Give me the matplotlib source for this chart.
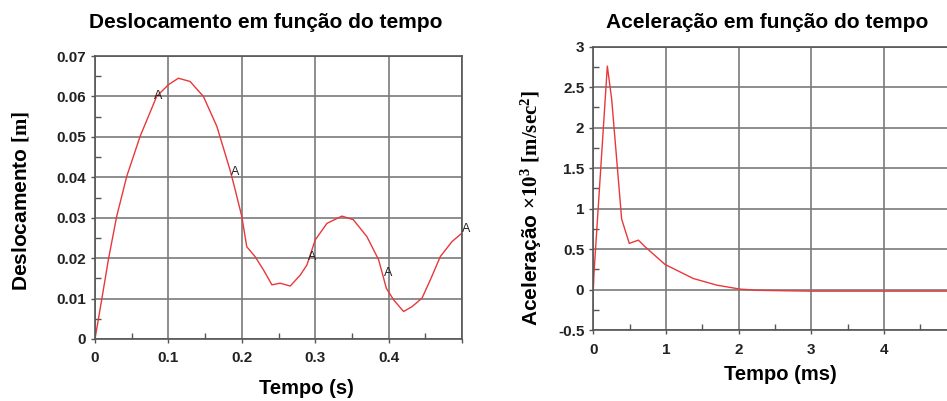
import numpy as np
import matplotlib.pyplot as plt
from matplotlib.ticker import MultipleLocator

plt.rcParams['mathtext.fontset'] = 'custom'
plt.rcParams['mathtext.rm'] = 'Liberation Serif:bold'
plt.rcParams['mathtext.bf'] = 'Liberation Serif:bold'
plt.rcParams['mathtext.it'] = 'Liberation Serif:bold'

# Deslocamento (m) vs tempo (s)
t_desl = [0, 0.0091, 0.0182, 0.0295, 0.0432, 0.0614, 0.084, 0.100, 0.1136, 0.1295,
          0.1477, 0.166, 0.184, 0.191, 0.200, 0.2068, 0.218, 0.2295, 0.241, 0.2523,
          0.266, 0.2796, 0.2887, 0.300, 0.316, 0.3364, 0.352, 0.3705, 0.3864, 0.397,
          0.4068, 0.4204, 0.4319, 0.4455, 0.4568, 0.4705, 0.4864, 0.500]
desl = [0, 0.0097, 0.0196, 0.0303, 0.0402, 0.0501, 0.0600, 0.0629, 0.0645, 0.0637,
        0.0600, 0.0526, 0.0418, 0.0369, 0.0303, 0.0228, 0.0204, 0.0171, 0.0134, 0.0138,
        0.0131, 0.0158, 0.0183, 0.0245, 0.0286, 0.0304, 0.0295, 0.0253, 0.0196, 0.0125,
        0.0097, 0.0068, 0.0080, 0.0101, 0.0146, 0.0204, 0.0241, 0.0262]
# marcadores "A"
t_A = [0.086, 0.191, 0.2955, 0.40, 0.505]
desl_A = [0.0602, 0.0414, 0.0204, 0.0163, 0.0272]

# Aceleracao (x10^3 m/s^2) vs tempo (ms)
t_acel = [0, 0.01, 0.069, 0.193, 0.253, 0.39, 0.495, 0.62, 0.71, 0.986,
          1.376, 1.70, 2.02, 2.27, 3.0, 4.0, 5.0]
acel = [0, 0.21, 1.03, 2.76, 2.35, 0.87, 0.57, 0.61, 0.53, 0.31,
        0.136, 0.054, 0.005, -0.01, -0.02, -0.02, -0.02]

red = '#e8383a'
sans = 'Liberation Sans'

fig = plt.figure(figsize=(9.47, 4.01), dpi=100)
ax1 = fig.add_axes([95/947, 62/401, 367/947, 283/401])
ax2 = fig.add_axes([593.3/947, 71/401, 363.5/947, 283.3/401])

def style(ax):
    ax.grid(True, which='major', color='#7a7a7a', linewidth=1.2)
    ax.set_axisbelow(True)
    for s in ax.spines.values():
        s.set_color('#555555')
        s.set_linewidth(1.2)
    ax.tick_params(which='major', direction='out', length=3, width=1, color='#555555')
    ax.tick_params(which='minor', direction='in', length=4, width=1, color='#555555')
    ax.tick_params(axis='x', which='major', pad=6)
    for lb in ax.get_xticklabels() + ax.get_yticklabels():
        lb.set_fontfamily(sans)
        lb.set_fontweight('bold')
        lb.set_fontsize(11)
        lb.set_color('#222222')

# --- deslocamento ---
ax1.plot(t_desl, desl, color=red, linewidth=1)
for x, y in zip(t_A, desl_A):
    ax1.text(x, y, 'A', ha='center', va='center', fontsize=9, family=sans,
             color='#222222', clip_on=False)
ax1.set_xlim(0, 0.5)
ax1.set_ylim(0, 0.07)
ax1.set_xticks([0, 0.1, 0.2, 0.3, 0.4, 0.5])
ax1.set_xticklabels(['0', '0.1', '0.2', '0.3', '0.4', ''])
ax1.set_yticks(np.arange(0, 0.0701, 0.01))
ax1.set_yticklabels(['0', '0.01', '0.02', '0.03', '0.04', '0.05', '0.06', '0.07'])
ax1.xaxis.set_minor_locator(MultipleLocator(0.05))
ax1.yaxis.set_minor_locator(MultipleLocator(0.005))
style(ax1)
fig.text(266/947, 1 - 22/401, 'Deslocamento em função do tempo', ha='center', va='center',
         fontsize=15, fontweight='bold', family=sans)
fig.text(306/947, 1 - 388/401, 'Tempo (s)', ha='center', va='center',
         fontsize=14.5, fontweight='bold', family=sans)
fig.text(20.5/947, 1 - 201/401, r'Deslocamento $\mathbf{[m]}$', ha='center', va='center',
         rotation=90, fontsize=15, fontweight='bold', family=sans)

# --- aceleracao ---
ax2.plot(t_acel, acel, color=red, linewidth=1)
ax2.set_xlim(0, 5)
ax2.set_ylim(-0.5, 3)
ax2.set_xticks([0, 1, 2, 3, 4, 5])
ax2.set_xticklabels(['0', '1', '2', '3', '4', ''])
ax2.set_yticks(np.arange(-0.5, 3.01, 0.5))
ax2.set_yticklabels(['-0.5', '0', '0.5', '1', '1.5', '2', '2.5', '3'])
ax2.xaxis.set_minor_locator(MultipleLocator(0.5))
ax2.yaxis.set_minor_locator(MultipleLocator(0.25))
style(ax2)
fig.text(767/947, 1 - 23/401, 'Aceleração em função do tempo', ha='center', va='center',
         fontsize=15, fontweight='bold', family=sans)
fig.text(780/947, 1 - 375/401, 'Tempo (ms)', ha='center', va='center',
         fontsize=14.5, fontweight='bold', family=sans)
fig.text(531/947, 1 - 208/401, r'Aceleração $\times\mathbf{10^3\ [m/sec^2]}$',
         ha='center', va='center', rotation=90, fontsize=15, fontweight='bold', family=sans)

fig.savefig('out.png', dpi=100)
